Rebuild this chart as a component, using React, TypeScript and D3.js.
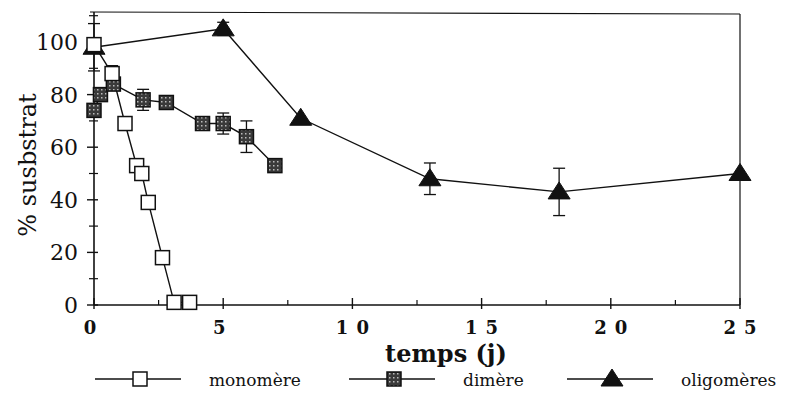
import React, { useEffect, useRef } from "react";
import { select, scaleLinear, line, range } from "d3";

// monomère (open squares)
const monoX = [0, 0.7, 1.2, 1.65, 1.85, 2.1, 2.65, 3.1, 3.7];
const monoY = [99, 88, 69, 53, 50, 39, 18, 1, 1];
const monoErr = [0, 3, 0, 0, 0, 0, 0, 0, 0];

// dimère (grey squares)
const dimX = [0, 0.25, 0.75, 1.9, 2.8, 4.2, 5.0, 5.9, 7.0];
const dimY = [74, 80, 84, 78, 77, 69, 69, 64, 53];
const dimErr = [0, 0, 0, 4, 0, 0, 4, 6, 0];

// oligomères (triangles)
const oligoX = [0, 5, 8, 13, 18, 25];
const oligoY = [98, 105, 71, 48, 43, 50];
const oligoErr = [9, 2.5, 0, 6, 9, 0];

const xTicks = [0, 5, 10, 15, 20, 25];
const yTicks = [0, 20, 40, 60, 80, 100];
const legendNames = ["monomère", "dimère", "oligomères"];

const SERIF = "'DejaVu Serif', 'Liberation Serif', serif";

const App = () => {
  const svgRef = useRef(null);

  useEffect(() => {
    const svg = select(svgRef.current);
    svg.selectAll("*").remove();

    const xScale = scaleLinear().domain([0, 25]).range([94, 740]);
    const yScale = scaleLinear().domain([0, 100]).range([305, 42]);
    const yTop = 12;

    const defs = svg.append("defs");
    const pat = defs
      .append("pattern")
      .attr("id", "speck")
      .attr("width", 4)
      .attr("height", 4)
      .attr("patternUnits", "userSpaceOnUse");
    pat.append("rect").attr("width", 4).attr("height", 4).attr("fill", "#3a3a3a");
    pat.append("rect").attr("x", 1).attr("y", 1).attr("width", 1.5).attr("height", 1.5).attr("fill", "#bbb");

    // frame
    const g = svg.append("g").attr("stroke", "#111").attr("fill", "none");
    g.append("line").attr("x1", 94).attr("x2", 94).attr("y1", yTop).attr("y2", 305).attr("stroke-width", 1.6);
    g.append("line").attr("x1", 94).attr("x2", 740).attr("y1", 305).attr("y2", 305).attr("stroke-width", 1.4);
    g.append("line").attr("x1", 90).attr("x2", 740).attr("y1", yTop).attr("y2", yTop + 2).attr("stroke-width", 1.2);
    g.append("line").attr("x1", 740).attr("x2", 740).attr("y1", yTop + 2).attr("y2", 305).attr("stroke-width", 1.2);

    // y ticks
    yTicks.forEach((t) => {
      g.append("line").attr("x1", 87).attr("x2", 98).attr("y1", yScale(t)).attr("y2", yScale(t)).attr("stroke-width", 1.4);
    });
    range(10, 120, 20).forEach((t) => {
      g.append("line").attr("x1", 89).attr("x2", 98).attr("y1", yScale(t)).attr("y2", yScale(t)).attr("stroke-width", 1.2);
    });
    // x ticks
    xTicks.forEach((t) => {
      g.append("line").attr("x1", xScale(t)).attr("x2", xScale(t)).attr("y1", 298).attr("y2", 309).attr("stroke-width", 1.4);
    });
    range(2.5, 25, 5).forEach((t) => {
      g.append("line").attr("x1", xScale(t)).attr("x2", xScale(t)).attr("y1", 300).attr("y2", 305).attr("stroke-width", 1.2);
    });

    svg
      .selectAll(".ylab")
      .data(yTicks)
      .join("text")
      .attr("class", "ylab")
      .attr("x", 78)
      .attr("y", (d) => yScale(d) + 8)
      .attr("text-anchor", "end")
      .attr("font-family", SERIF)
      .attr("font-size", 22)
      .attr("fill", "#111")
      .text((d) => d);

    svg
      .selectAll(".xlab")
      .data(xTicks)
      .join("text")
      .attr("class", "xlab")
      .attr("x", (d) => xScale(d) + (d >= 10 ? 4 : 0))
      .attr("y", 334)
      .attr("text-anchor", "middle")
      .attr("font-family", SERIF)
      .attr("font-weight", "bold")
      .attr("font-size", 18)
      .attr("letter-spacing", 8)
      .attr("fill", "#111")
      .text((d) => d);

    svg
      .append("text")
      .attr("transform", "translate(36,165) rotate(-90)")
      .attr("text-anchor", "middle")
      .attr("font-family", SERIF)
      .attr("font-size", 24)
      .attr("fill", "#111")
      .text("% susbstrat");

    svg
      .append("text")
      .attr("x", 446)
      .attr("y", 362)
      .attr("text-anchor", "middle")
      .attr("font-family", SERIF)
      .attr("font-weight", "bold")
      .attr("font-size", 24)
      .attr("fill", "#111")
      .text("temps  (j)");

    const lineGen = line()
      .x((d) => xScale(d[0]))
      .y((d) => yScale(d[1]));

    const series = [
      { xs: monoX, ys: monoY, err: monoErr, kind: "open" },
      { xs: dimX, ys: dimY, err: dimErr, kind: "grey" },
      { xs: oligoX, ys: oligoY, err: oligoErr, kind: "tri" },
    ];

    const drawMarker = (sel, kind, cx, cy) => {
      if (kind === "tri") {
        sel
          .append("path")
          .attr("d", `M${cx},${cy - 10}L${cx + 11},${cy + 7}L${cx - 11},${cy + 7}Z`)
          .attr("fill", "#111")
          .attr("stroke", "#111");
      } else {
        sel
          .append("rect")
          .attr("x", cx - 7)
          .attr("y", cy - 7)
          .attr("width", 14)
          .attr("height", 14)
          .attr("fill", kind === "open" ? "#fff" : "url(#speck)")
          .attr("stroke", "#111")
          .attr("stroke-width", 1.5);
      }
    };

    // lines first, then error bars, then markers
    series
      .slice()
      .reverse()
      .forEach((s) => {
        const pts = s.xs.map((x, i) => [x, s.ys[i]]);
        svg.append("path").attr("d", lineGen(pts)).attr("fill", "none").attr("stroke", "#111").attr("stroke-width", 1.4);
      });

    series.forEach((s) => {
      s.xs.forEach((x, i) => {
        if (!s.err[i]) return;
        const cx = xScale(x);
        const top = yScale(s.ys[i] + s.err[i]);
        const bot = yScale(s.ys[i] - s.err[i]);
        svg.append("line").attr("x1", cx).attr("x2", cx).attr("y1", top).attr("y2", bot).attr("stroke", "#111").attr("stroke-width", 1.3);
        svg.append("line").attr("x1", cx - 6).attr("x2", cx + 6).attr("y1", top).attr("y2", top).attr("stroke", "#111").attr("stroke-width", 1.3);
        svg.append("line").attr("x1", cx - 6).attr("x2", cx + 6).attr("y1", bot).attr("y2", bot).attr("stroke", "#111").attr("stroke-width", 1.3);
      });
    });

    series
      .slice()
      .reverse()
      .forEach((s) => {
        s.xs.forEach((x, i) => drawMarker(svg, s.kind, xScale(x), yScale(s.ys[i])));
      });

    // legend
    const legendX = [95, 349, 567];
    series.forEach((s, i) => {
      const x0 = legendX[i];
      svg.append("line").attr("x1", x0).attr("x2", x0 + 86).attr("y1", 379).attr("y2", 379).attr("stroke", "#111").attr("stroke-width", 1.3);
      drawMarker(svg, s.kind, x0 + 45, 379);
      svg
        .append("text")
        .attr("x", x0 + 114)
        .attr("y", 386)
        .attr("font-family", SERIF)
        .attr("font-size", 17)
        .attr("fill", "#111")
        .text(legendNames[i]);
    });
  }, []);

  return (
    <svg
      ref={svgRef}
      width={787}
      height={394}
      style={{ position: "absolute", left: 0, top: 0, background: "#fff" }}
    />
  );
};

export default App;
